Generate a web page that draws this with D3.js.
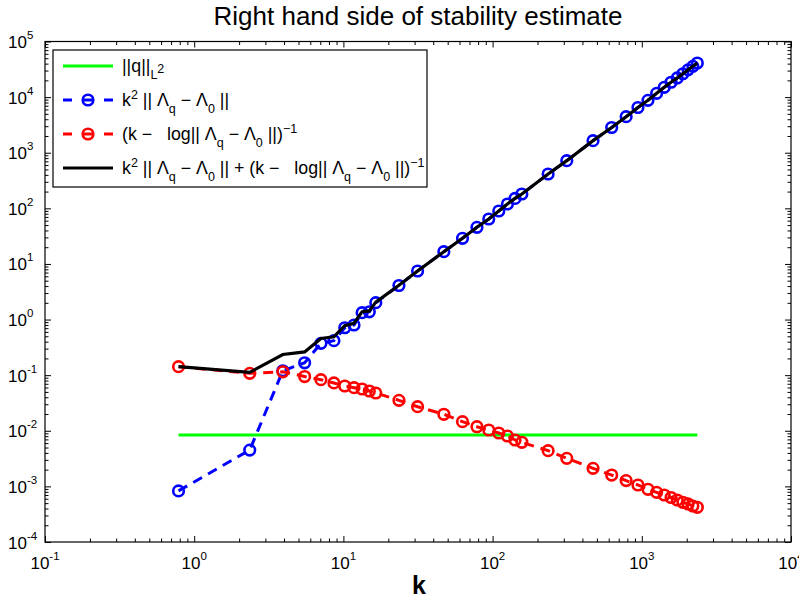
<!DOCTYPE html>
<html>
<head>
<meta charset="utf-8">
<script src="https://cdn.jsdelivr.net/npm/d3@7"></script>
<style>
  body { margin: 0; background: #fff; }
  svg { display: block; font-family: "Liberation Sans", Arial, sans-serif; }
</style>
</head>
<body>
<div id="vis"></div>
<script>
// data
const K_VALUES = [0.785, 2.356, 3.927, 5.498, 7.069, 8.639, 10.21, 11.78, 13.35, 14.92, 16.49,
  23.56, 31.42, 47.12, 62.83, 78.54, 94.25, 110.0, 125.7, 141.4, 157.1,
  235.6, 314.2, 471.2, 628.3, 785.4, 942.5, 1100, 1257, 1414, 1571, 1728, 1885, 2042, 2199, 2356];

const Q_NORM = [0.0084, 0.0084];
const Q_K = [0.785, 2356];

const K2_NORM = [0.00083, 0.0045, 0.120, 0.167, 0.374, 0.417, 0.713, 0.798, 1.33, 1.38, 2.01,
  4.1, 7.46, 16.6, 28.9, 45.6, 64.3, 89.5, 119.7, 151, 181,
  414, 720, 1650, 2840, 4450, 6500, 8750, 11700, 15000, 18500, 22100, 26300, 30900, 35800, 41000];

const INV_LOG = [0.142, 0.108, 0.115, 0.0945, 0.0830, 0.0725, 0.0639, 0.0596, 0.0564, 0.0519, 0.0478,
  0.0353, 0.0271, 0.0198, 0.01456, 0.01183, 0.01032, 0.00912, 0.00805, 0.00683, 0.00621,
  0.00439, 0.0032, 0.00211, 0.0016, 0.00127, 0.00106, 0.000887, 0.000783, 0.0007, 0.000631,
  0.000569, 0.000518, 0.000483, 0.000444, 0.000421];

const TOTAL = [0.1428, 0.1125, 0.235, 0.2615, 0.457, 0.4895, 0.7769, 0.8576, 1.386, 1.432, 2.058,
  4.135, 7.487, 16.62, 28.91, 45.61, 64.31, 89.51, 119.7, 151.0, 181.0,
  414, 720, 1650, 2840, 4450, 6500, 8750, 11700, 15000, 18500, 22100, 26300, 30900, 35800, 41000];

const X_EXPONENTS = [-1, 0, 1, 2, 3, 4];
const Y_EXPONENTS = [-4, -3, -2, -1, 0, 1, 2, 3, 4, 5];

// frame
const FRAME_WIDTH = 799;
const FRAME_HEIGHT = 599;
const MARGINS = {left: 45, right: 8, top: 41.5, bottom: 57};
const X0 = MARGINS.left, X1 = FRAME_WIDTH - MARGINS.right;
const Y0 = MARGINS.top, Y1 = FRAME_HEIGHT - MARGINS.bottom;

const svg = d3.select("#vis")
  .append("svg")
    .attr("width", FRAME_WIDTH)
    .attr("height", FRAME_HEIGHT);

const X_SCALE = d3.scaleLog().domain([1e-1, 1e4]).range([X0, X1]);
const Y_SCALE = d3.scaleLog().domain([1e-4, 1e5]).range([Y1, Y0]);

const isMajor = (v) => Math.abs(Math.log10(v) - Math.round(Math.log10(v))) < 1e-9;
const xMajor = X_SCALE.ticks().filter(isMajor);
const xMinor = X_SCALE.ticks().filter(v => !isMajor(v));
const yMajor = Y_SCALE.ticks().filter(isMajor);
const yMinor = Y_SCALE.ticks().filter(v => !isMajor(v));

const MAJ = 6, MIN = 3.5;

// tick marks on all four sides, pointing inwards
function ticks(axisFn, scale, values, size, tx, ty) {
  const g = svg.append("g")
    .attr("transform", "translate(" + tx + "," + ty + ")")
    .call(axisFn(scale).tickValues(values).tickSize(size).tickFormat(""));
  g.select(".domain").remove();
  g.selectAll("line").attr("stroke", "#000").attr("stroke-width", 1);
}
ticks(d3.axisBottom, X_SCALE, xMajor, -MAJ, 0, Y1);
ticks(d3.axisBottom, X_SCALE, xMinor, -MIN, 0, Y1);
ticks(d3.axisTop, X_SCALE, xMajor, -MAJ, 0, Y0);
ticks(d3.axisTop, X_SCALE, xMinor, -MIN, 0, Y0);
ticks(d3.axisLeft, Y_SCALE, yMajor, -MAJ, X0, 0);
ticks(d3.axisLeft, Y_SCALE, yMinor, -MIN, X0, 0);
ticks(d3.axisRight, Y_SCALE, yMajor, -MAJ, X1, 0);
ticks(d3.axisRight, Y_SCALE, yMinor, -MIN, X1, 0);

// plot box
svg.append("rect")
  .attr("x", X0).attr("y", Y0)
  .attr("width", X1 - X0).attr("height", Y1 - Y0)
  .attr("fill", "none").attr("stroke", "#000").attr("stroke-width", 1.2);

// tick labels
const xl = svg.append("g").selectAll("text")
  .data(X_EXPONENTS).enter().append("text")
    .attr("x", d => X_SCALE(Math.pow(10, d)))
    .attr("y", Y1 + 27)
    .attr("text-anchor", "middle")
    .attr("font-size", 17);
xl.append("tspan").text("10");
xl.append("tspan").attr("dy", -9).attr("font-size", 11.5).text(d => String(d));

const yl = svg.append("g").selectAll("text")
  .data(Y_EXPONENTS).enter().append("text")
    .attr("x", 8)
    .attr("y", d => Y_SCALE(Math.pow(10, d)) + 6.5)
    .attr("font-size", 17);
yl.append("tspan").text("10");
yl.append("tspan").attr("dy", -9).attr("font-size", 11.5).text(d => String(d));

// title and axis label
svg.append("text")
  .attr("x", 418).attr("y", 25)
  .attr("text-anchor", "middle")
  .attr("font-size", 26)
  .text("Right hand side of stability estimate");

svg.append("text")
  .attr("x", 419).attr("y", 594)
  .attr("text-anchor", "middle")
  .attr("font-size", 25)
  .attr("font-weight", "bold")
  .text("k");

// series
const plot = svg.append("g");
const line = d3.line()
  .x(d => X_SCALE(d[0]))
  .y(d => Y_SCALE(d[1]));

// green: ||q||
plot.append("path")
  .datum(d3.zip(Q_K, Q_NORM))
  .attr("d", line)
  .attr("fill", "none").attr("stroke", "#00ff00").attr("stroke-width", 3);

function dashedSeries(values, color) {
  const pts = d3.zip(K_VALUES, values);
  plot.append("path")
    .datum(pts)
    .attr("d", line)
    .attr("fill", "none").attr("stroke", color)
    .attr("stroke-width", 3).attr("stroke-dasharray", "10,7");
  plot.append("g").selectAll("circle")
    .data(pts).enter().append("circle")
      .attr("cx", d => X_SCALE(d[0]))
      .attr("cy", d => Y_SCALE(d[1]))
      .attr("r", 5.3)
      .attr("fill", "none").attr("stroke", color).attr("stroke-width", 2.6);
}
dashedSeries(K2_NORM, "#0000ff");
dashedSeries(INV_LOG, "#ff0000");

plot.append("path")
  .datum(d3.zip(K_VALUES, TOTAL))
  .attr("d", line)
  .attr("fill", "none").attr("stroke", "#000").attr("stroke-width", 3.2);

// legend
const LEG = svg.append("g");
LEG.append("rect")
  .attr("x", 53).attr("y", 50).attr("width", 374).attr("height", 137)
  .attr("fill", "#fff").attr("stroke", "#000").attr("stroke-width", 1.2);

const ROWS = [66, 100, 134, 168];
const LX0 = 63, LX1 = 113, LTX = 122;
const FS = 17.8, FS_SMALL = 12.5;

LEG.append("line").attr("x1", LX0).attr("x2", LX1).attr("y1", ROWS[0]).attr("y2", ROWS[0])
  .attr("stroke", "#00ff00").attr("stroke-width", 3);
[["#0000ff", ROWS[1]], ["#ff0000", ROWS[2]]].forEach(([c, yy]) => {
  LEG.append("line").attr("x1", LX0).attr("x2", LX1).attr("y1", yy).attr("y2", yy)
    .attr("stroke", c).attr("stroke-width", 3).attr("stroke-dasharray", "9,11.5");
  LEG.append("circle").attr("cx", (LX0 + LX1) / 2).attr("cy", yy).attr("r", 5.3)
    .attr("fill", "none").attr("stroke", c).attr("stroke-width", 2.6);
});
LEG.append("line").attr("x1", LX0).attr("x2", LX1).attr("y1", ROWS[3]).attr("y2", ROWS[3])
  .attr("stroke", "#000").attr("stroke-width", 3.2);

// rich text: pieces of [text, shift] where shift is "sup", "sub" or ""
function rich(yy, parts) {
  const t = LEG.append("text").attr("x", LTX).attr("y", yy + 6).attr("font-size", FS)
    .attr("xml:space", "preserve");
  let cur = 0;
  parts.forEach(([s, k]) => {
    const off = k === "sup" ? -7.5 : k === "sub" ? 6.5 : k === "subsup" ? 1 : 0;
    t.append("tspan")
      .attr("dy", off - cur)
      .attr("font-size", k ? FS_SMALL : FS)
      .text(s);
    cur = off;
  });
}
rich(ROWS[0], [["||q||", ""], ["L", "sub"], ["2", "subsup"]]);
rich(ROWS[1], [["k", ""], ["2", "sup"], [" || \u039B", ""], ["q", "sub"], [" \u2212 \u039B", ""], ["0", "sub"], [" ||", ""]]);
rich(ROWS[2], [["(k \u2212   log|| \u039B", ""], ["q", "sub"], [" \u2212 \u039B", ""], ["0", "sub"], [" ||)", ""], ["\u22121", "sup"]]);
rich(ROWS[3], [["k", ""], ["2", "sup"], [" || \u039B", ""], ["q", "sub"], [" \u2212 \u039B", ""], ["0", "sub"],
  [" || + (k \u2212   log|| \u039B", ""], ["q", "sub"], [" \u2212 \u039B", ""], ["0", "sub"], [" ||)", ""], ["\u22121", "sup"]]);
</script>
</body>
</html>
